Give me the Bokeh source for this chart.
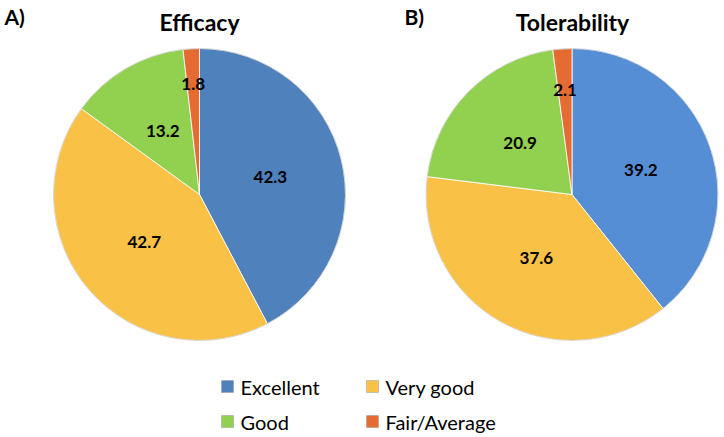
import math
from bokeh.plotting import figure
from bokeh.models import Range1d, ColumnDataSource
from bokeh.core.properties import value
from bokeh.embed import file_html
from bokeh.resources import INLINE

# ---- data ----
categories = ["Excellent", "Very good", "Good", "Fair/Average"]
efficacy = [42.3, 42.7, 13.2, 1.8]
tolerability = [39.2, 37.6, 20.9, 2.1]
panel_titles = ["Efficacy", "Tolerability"]
panel_tags = ["A)", "B)"]

colors_a = ["#4F81BD", "#F9C247", "#92D050", "#E46C33"]
colors_b = ["#558ED5", "#F9C247", "#92D050", "#E46C33"]
legend_colors = ["#4F81BD", "#F9C247", "#92D050", "#E46C33"]

W, H = 724, 437
FONT = "Lato"

p = figure(width=W, height=H, output_backend="svg", toolbar_location=None,
           x_range=Range1d(0, W), y_range=Range1d(0, H), match_aspect=False,
           min_border=0, border_fill_color="white", background_fill_color="white")
p.axis.visible = False
p.xgrid.visible = False
p.ygrid.visible = False
p.outline_line_color = None


def Y(py):
    return H - py


def draw_pie(vals, colors, cx, cy, r, label_r):
    total = sum(vals)
    starts, ends, lx, ly, txt = [], [], [], [], []
    cum = 0.0
    for i, v in enumerate(vals):
        f0 = cum / total
        f1 = (cum + v) / total
        cum += v
        starts.append(math.pi / 2 - 2 * math.pi * f0)
        ends.append(math.pi / 2 - 2 * math.pi * f1)
        mid = math.pi / 2 - 2 * math.pi * (f0 + f1) / 2
        rr = r * label_r[i]
        lx.append(cx + rr * math.cos(mid))
        ly.append(Y(cy) + rr * math.sin(mid))
        txt.append(f"{v:.1f}")
    src = ColumnDataSource(dict(s=starts, e=ends, c=colors))
    p.wedge(x=cx, y=Y(cy), radius=r, start_angle="s", end_angle="e",
            direction="clock", fill_color="c", line_color="white",
            line_width=0.8, source=src)
    p.circle(x=cx, y=Y(cy), radius=r, fill_color=None, line_color="#BFBFBF",
             line_width=0.6)
    p.text(x=lx, y=ly, text=txt, text_align="center", text_baseline="middle",
           text_font=value(FONT), text_font_style="bold", text_font_size="17px",
           text_color="black")


draw_pie(efficacy, colors_a, 199, 194, 146, [0.5, 0.5, 0.5, 0.76])
draw_pie(tolerability, colors_b, 571.5, 194, 146, [0.5, 0.5, 0.5, 0.72])

# titles
p.text(x=[199, 572], y=[Y(21), Y(21)], text=panel_titles, text_align="center",
       text_baseline="middle", text_font=value(FONT), text_font_style="bold",
       text_font_size="23px", text_color="black")
p.text(x=[4, 404], y=[Y(16), Y(16)], text=panel_tags, text_align="left",
       text_baseline="middle", text_font=value(FONT), text_font_style="bold",
       text_font_size="21px", text_color="black")

# legend
lg_x = [227, 372, 227, 372]
lg_y = [386, 386, 421, 421]
p.rect(x=lg_x, y=[Y(v) for v in lg_y], width=12, height=12,
       fill_color=legend_colors, line_color="#9a9a9a", line_width=0.5)
p.text(x=[v + 13 for v in lg_x], y=[Y(v) for v in lg_y], text=categories,
       text_align="left", text_baseline="middle", text_font=value(FONT),
       text_font_size="20px", text_color="black")

open("out.html", "w").write(file_html(p, INLINE))
